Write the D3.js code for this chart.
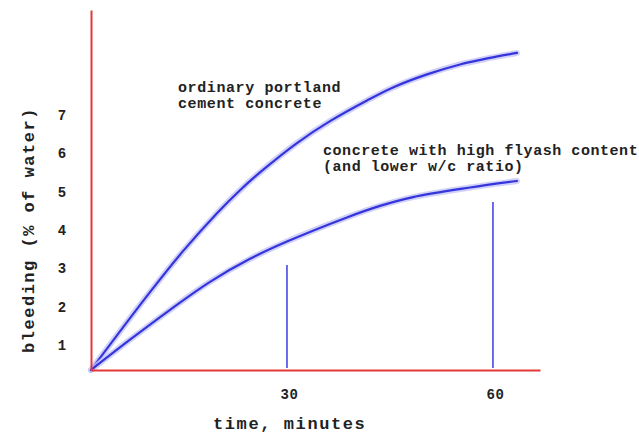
<!DOCTYPE html>
<html>
<head>
<meta charset="utf-8">
<script src="https://cdn.jsdelivr.net/npm/d3@7"></script>
<style>
  html, body { margin: 0; padding: 0; background: #fff; }
  svg { display: block; }
  text { font-family: "Liberation Mono", "DejaVu Sans Mono", monospace; font-weight: bold; fill: #222; }
</style>
</head>
<body>
<svg id="chart" width="639" height="436"></svg>
<script>
// ---- data ----
const xTickValues = [30, 60];
const yTickValues = [1, 2, 3, 4, 5, 6, 7];

const opcTime  = [1.46, 10.05, 14.86, 19.81, 23.16, 26.51, 31.46, 36.27, 41.66, 45.44, 50.40, 55.20, 59.57, 63.5];
const opcBleed = [0.35, 2.38, 3.45, 4.44, 5.04, 5.57, 6.27, 6.84, 7.38, 7.72, 8.06, 8.32, 8.49, 8.62];

const flyTime  = [1.46, 7.14, 12.97, 18.79, 24.62, 30.0, 38.74, 43.55, 48.36, 56.66, 63.5];
const flyBleed = [0.35, 1.14, 1.92, 2.65, 3.25, 3.70, 4.33, 4.63, 4.86, 5.11, 5.28];

const markerTime  = [30, 60];
const markerBleed = [3.09, 4.73];

const opcLabel = ["ordinary portland", "cement concrete"];
const flyLabel = ["concrete with high flyash content", "(and lower w/c ratio)"];
const xTitle = "time, minutes";
const yTitle = "bleeding (% of water)";

// ---- scales ----
const svg = d3.select("#chart");
const x = d3.scaleLinear().domain([1.46, 66.85]).range([91, 540]);
const y = d3.scaleLinear().domain([0.35, 9.74]).range([370, 10]);

const opc = opcTime.map((t, i) => [t, opcBleed[i]]);
const fly = flyTime.map((t, i) => [t, flyBleed[i]]);

const line = d3.line().x(d => x(d[0])).y(d => y(d[1])).curve(d3.curveCatmullRom.alpha(0.5));

// curves with a soft halo
[opc, fly].forEach(data => {
  svg.append("path").datum(data).attr("d", line)
    .attr("fill", "none").attr("stroke", "#c4c4f7").attr("stroke-width", 6)
    .attr("stroke-linecap", "round").attr("opacity", 0.8);
  svg.append("path").datum(data).attr("d", line)
    .attr("fill", "none").attr("stroke", "#3434dc").attr("stroke-width", 2.2)
    .attr("stroke-linecap", "round");
});

// vertical markers
svg.selectAll("line.marker").data(markerTime).enter().append("line")
  .attr("class", "marker")
  .attr("x1", d => x(d)).attr("x2", d => x(d))
  .attr("y1", y.range()[0] - 2)
  .attr("y2", (d, i) => y(markerBleed[i]))
  .attr("stroke", "#4848e6").attr("stroke-width", 1.6);

// axes
const xAxis = d3.axisBottom(x).tickValues(xTickValues).tickSize(0).tickSizeOuter(0);
const gx = svg.append("g").attr("transform", "translate(0,370)").call(xAxis);
gx.select(".domain").attr("stroke", "#e53838").attr("stroke-width", 2);
gx.selectAll(".tick text")
  .attr("y", 29).attr("dy", 0).attr("dx", 2)
  .style("font-family", "Liberation Mono, monospace")
  .style("font-weight", "bold").style("font-size", "14px")
  .style("letter-spacing", "0.5px").attr("fill", "#222");

const yAxis = d3.axisLeft(y).tickValues(yTickValues).tickSize(0).tickSizeOuter(0);
const gy = svg.append("g").attr("transform", "translate(91,0)").call(yAxis);
gy.select(".domain").attr("stroke", "#e53838").attr("stroke-width", 2);
gy.selectAll(".tick text")
  .attr("x", -29).attr("text-anchor", "middle")
  .style("font-family", "Liberation Mono, monospace")
  .style("font-weight", "bold").style("font-size", "14px").attr("fill", "#222");

// axis titles
svg.append("text").attr("x", 213).attr("y", 429)
  .style("font-size", "17px").style("letter-spacing", "1.6px")
  .text(xTitle);
svg.append("text").attr("transform", "translate(34,230) rotate(-90)")
  .attr("text-anchor", "middle")
  .style("font-size", "17px").style("letter-spacing", "1.5px")
  .text(yTitle);

// annotations
opcLabel.forEach((s, i) => {
  svg.append("text").attr("x", 178).attr("y", 92 + i * 16)
    .style("font-size", "15px").style("letter-spacing", "0.6px").text(s);
});
flyLabel.forEach((s, i) => {
  svg.append("text").attr("x", 323).attr("y", 155 + i * 16)
    .style("font-size", "15px").style("letter-spacing", "0.55px").text(s);
});
</script>
</body>
</html>
